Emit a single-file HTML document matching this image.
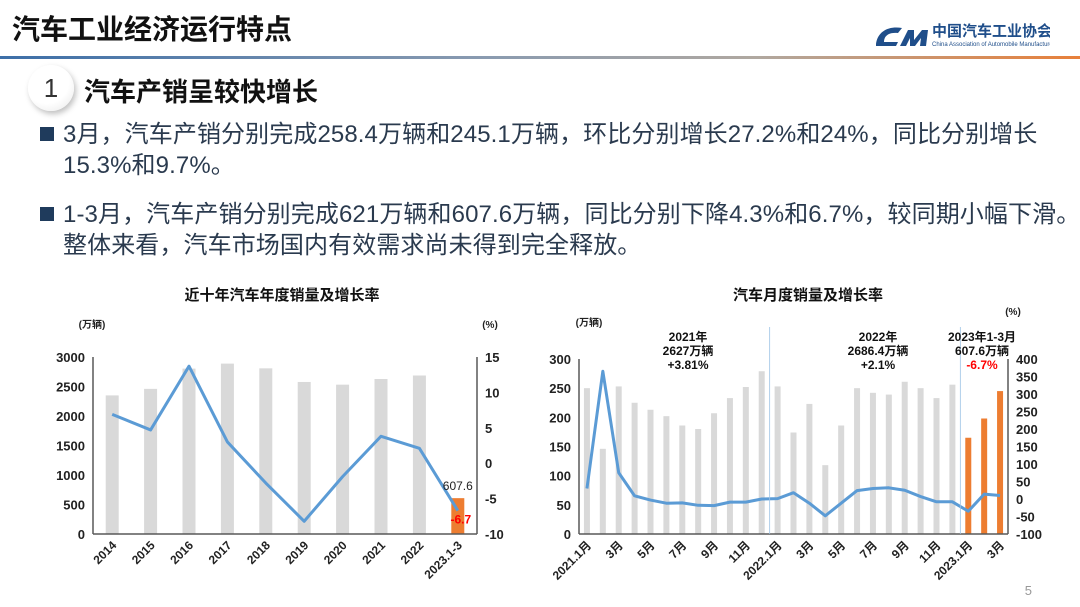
<!DOCTYPE html>
<html><head><meta charset="utf-8">
<style>
body{margin:0;width:1080px;height:607px;overflow:hidden;background:#fff;font-family:"Liberation Sans","Noto Sans CJK SC",sans-serif;position:relative}
.abs{position:absolute}
#title{left:12px;top:8px;font-size:28px;font-weight:bold;color:#111;white-space:nowrap}
#rule{left:0;top:56px;width:1080px;height:3px;background:linear-gradient(90deg,#3d6fa8 0%,#8a9bb0 45%,#b0a8a0 70%,#e8803a 100%)}
#circle{left:28px;top:65px;width:46px;height:46px;border-radius:50%;background:radial-gradient(circle at 40% 35%,#fff 55%,#e6e6e6 100%);box-shadow:2px 3px 6px rgba(0,0,0,.25);text-align:center;line-height:46px;font-size:26px;color:#333}
#subtitle{left:84px;top:72px;font-size:26px;font-weight:bold;color:#111;white-space:nowrap}
.para{left:40px;font-size:24px;color:#2a3a4e;line-height:31px;white-space:nowrap;letter-spacing:0.1px}
.bullet{display:inline-block;width:14px;height:14px;background:#1f3b5c;margin-right:9px;vertical-align:1px}
#logo{left:870px;top:20px;white-space:nowrap}
</style></head><body>
<div class="abs" id="title">汽车工业经济运行特点</div>
<div class="abs" id="logo">
<svg width="180" height="30" style="vertical-align:middle"><path d="M6 24 C8 10 20 6 32 8 L28 13 C20 12 14 15 14 22 L28 22 L26 26 L6 26Z" fill="#1f4e8a"/><path d="M30 26 L38 10 L44 10 L44 20 L52 10 L58 10 L56 26 L50 26 L51 18 L45 26 L40 26 L40 18 L36 26Z" fill="#1f4e8a"/>
<text x="62" y="16" font-size="15" font-weight="bold" fill="#1f4e8a" font-family="Liberation Sans, Noto Sans CJK SC, sans-serif">中国汽车工业协会</text>
<text x="62" y="26" font-size="6" fill="#1f4e8a" font-family="Liberation Sans, sans-serif">China Association of Automobile Manufacturers</text></svg></div>
<div class="abs" id="rule"></div>
<div class="abs" id="circle">1</div>
<div class="abs" id="subtitle">汽车产销呈较快增长</div>
<div class="abs para" style="top:119px"><span class="bullet"></span>3月，汽车产销分别完成258.4万辆和245.1万辆，环比分别增长27.2%和24%，同比分别增长<br><span style="padding-left:23px">15.3%和9.7%。</span></div>
<div class="abs para" style="top:199px"><span class="bullet"></span>1-3月，汽车产销分别完成621万辆和607.6万辆，同比分别下降4.3%和6.7%，较同期小幅下滑。<br><span style="padding-left:23px">整体来看，汽车市场国内有效需求尚未得到完全释放。</span></div>
<div class="abs" style="right:48px;top:583px;font-size:13px;color:#999">5</div>
<svg class="abs" style="left:0;top:0" width="1080" height="607" id="charts"></svg>
<script>
const yearCats=['2014','2015','2016','2017','2018','2019','2020','2021','2022','2023.1-3'];
const yearSales=[2349,2460,2803,2888,2808,2577,2531,2627,2686,607.6];
const yearGrowth=[6.9,4.7,13.7,3.0,-2.8,-8.2,-1.9,3.8,2.1,-6.7];
const yLeftTicks=[0,500,1000,1500,2000,2500,3000];
const yRightTicks=[-10,-5,0,5,10,15];
const monthCats=['2021.1月','2月','3月','4月','5月','6月','7月','8月','9月','10月','11月','12月','2022.1月','2月','3月','4月','5月','6月','7月','8月','9月','10月','11月','12月','2023.1月','2月','3月'];
const monthSales=[250,146,253,225,213,202,186,180,207,233,252,279,253,174,223,118,186,250,242,239,261,250,233,256,165,198,245];
const monthGrowth=[30,365,75,9,-3,-12,-11,-18,-19,-9,-9,0,1,18,-12,-48,-12,24,30,32,25,7,-8,-8,-35,14,10];
const mLeftTicks=[0,50,100,150,200,250,300];
const mRightTicks=[-100,-50,0,50,100,150,200,250,300,350,400];
const NS='http://www.w3.org/2000/svg';
const svg=document.getElementById('charts');
const FF='Liberation Sans, Noto Sans CJK SC, sans-serif';
function mk(tag,attrs,text){const e=document.createElementNS(NS,tag);for(const k in attrs)e.setAttribute(k,attrs[k]);if(text!==undefined)e.textContent=text;svg.appendChild(e);return e;}
function chart(o){
 const {x0,x1,yTop,yBot,cats,sales,growth,lmax,rmin,rmax,lt,rt,bw,hl,labelEvery,name}=o;
 const n=cats.length, step=(x1-x0)/n;
 const xs=i=>x0+step*(i+0.5);
 const yl=v=>yBot-(v/lmax)*(yBot-yTop);
 const yr=v=>yBot-((v-rmin)/(rmax-rmin))*(yBot-yTop);
 let e;
 for(let i=0;i<n;i++){
  e=mk('rect',{x:xs(i)-bw/2,y:yl(sales[i]),width:bw,height:yBot-yl(sales[i]),fill:i>=hl?'#ED7D31':'#D9D9D9'});
  
  
 }
 e=mk('line',{x1:x0,y1:yTop,x2:x0,y2:yBot,stroke:'#595959','stroke-width':1.5});
  
 e=mk('line',{x1:x1,y1:yTop,x2:x1,y2:yBot,stroke:'#595959','stroke-width':1.5});
  
 e=mk('line',{x1:x0,y1:yBot,x2:x1,y2:yBot,stroke:'#595959','stroke-width':1.5});
  
 lt.forEach(v=>{e=mk('text',{x:x0-8,y:yl(v)+5,'text-anchor':'end','font-size':13,'font-weight':'bold','font-family':FF,fill:'#222'},v);
   });
 rt.forEach(v=>{e=mk('text',{x:x1+8,y:yr(v)+5,'text-anchor':'start','font-size':13,'font-weight':'bold','font-family':FF,fill:'#222'},v);
   });
 cats.forEach((c,i)=>{ if(i%labelEvery) return;
  const lx=xs(i)+5, ly=yBot+12;
  e=mk('text',{x:lx,y:ly,'text-anchor':'end','font-size':12,'font-weight':'bold','font-family':FF,fill:'#222',transform:`rotate(-45 ${lx} ${ly})`},c);
   });
 const pts=growth.map((g,i)=>xs(i)+','+yr(g)).join(' ');
 e=mk('polyline',{points:pts,fill:'none',stroke:'#5B9BD5','stroke-width':3,'stroke-linejoin':'round'});
  
 return {xs,yl,yr,step};
}
const L=chart({x0:93,x1:477,yTop:357,yBot:534,cats:yearCats,sales:yearSales,growth:yearGrowth,lmax:3000,rmin:-10,rmax:15,lt:yLeftTicks,rt:yRightTicks,bw:13,hl:9,labelEvery:1,name:'annual'});
let t;
t=mk('text',{x:282,y:300,'text-anchor':'middle','font-size':15,'font-weight':'bold','font-family':FF,fill:'#111'},'近十年汽车年度销量及增长率');

t=mk('text',{x:92,y:328,'text-anchor':'middle','font-size':10,'font-weight':'bold','font-family':FF,fill:'#222'},'(万辆)');

t=mk('text',{x:490,y:328,'text-anchor':'middle','font-size':10,'font-weight':'bold','font-family':FF,fill:'#222'},'(%)');

t=mk('text',{x:L.xs(9),y:L.yl(yearSales[9])-8,'text-anchor':'middle','font-size':12,'font-family':FF,fill:'#222'},yearSales[9]);

t=mk('text',{x:L.xs(9)+3,y:L.yr(yearGrowth[9])+13,'text-anchor':'middle','font-size':12,'font-weight':'bold','font-family':FF,fill:'#FF0000'},yearGrowth[9]);

const R=chart({x0:579,x1:1008,yTop:359,yBot:534,cats:monthCats,sales:monthSales,growth:monthGrowth,lmax:300,rmin:-100,rmax:400,lt:mLeftTicks,rt:mRightTicks,bw:6,hl:24,labelEvery:2,name:'monthly'});
[12,24].forEach(i=>{const sx=R.xs(i)-R.step/2;
 t=mk('line',{x1:sx,y1:327,x2:sx,y2:534,stroke:'#9DC3E6','stroke-width':0.8});
 });
t=mk('text',{x:808,y:300,'text-anchor':'middle','font-size':15,'font-weight':'bold','font-family':FF,fill:'#111'},'汽车月度销量及增长率');

t=mk('text',{x:589,y:326,'text-anchor':'middle','font-size':10,'font-weight':'bold','font-family':FF,fill:'#222'},'(万辆)');

t=mk('text',{x:1013,y:315,'text-anchor':'middle','font-size':10,'font-weight':'bold','font-family':FF,fill:'#222'},'(%)');

const notes=[[688,['2021年','2627万辆','+3.81%'],'#111'],[878,['2022年','2686.4万辆','+2.1%'],'#111'],[982,['2023年1-3月','607.6万辆','-6.7%'],'#FF0000']];
notes.forEach(([x,lines,c])=>{lines.forEach((s,j)=>{
 t=mk('text',{x:x,y:341+j*14,'text-anchor':'middle','font-size':12,'font-weight':'bold','font-family':FF,fill:j==2?c:'#111'},s);
 });});
</script>
</body></html>
